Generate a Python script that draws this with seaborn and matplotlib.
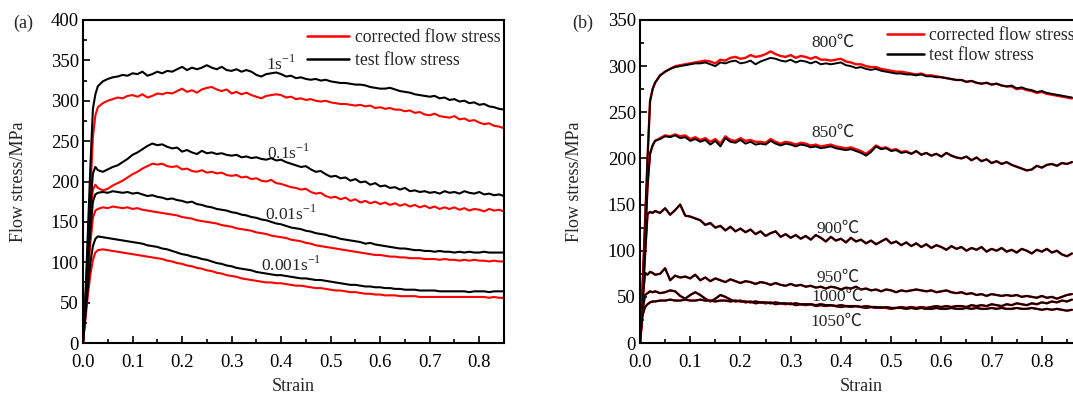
import matplotlib
matplotlib.use("Agg")
import matplotlib.pyplot as plt
from matplotlib.ticker import MultipleLocator
from matplotlib.lines import Line2D
import seaborn as sns

# ---------------- data ----------------
strain_a = [0.0, 0.005, 0.01, 0.015, 0.02, 0.025, 0.03,
            0.04, 0.05, 0.06, 0.07, 0.08, 0.09, 0.10, 0.11, 0.12, 0.13,
            0.14, 0.15, 0.16, 0.17, 0.18, 0.19, 0.20, 0.21, 0.22, 0.23,
            0.24, 0.25, 0.26, 0.27, 0.28, 0.29, 0.30, 0.31, 0.32, 0.33,
            0.34, 0.35, 0.36, 0.37, 0.38, 0.39, 0.40, 0.41, 0.42, 0.43,
            0.44, 0.45, 0.46, 0.47, 0.48, 0.49, 0.50, 0.51, 0.52, 0.53,
            0.54, 0.55, 0.56, 0.57, 0.58, 0.59, 0.60, 0.61, 0.62, 0.63,
            0.64, 0.65, 0.66, 0.67, 0.68, 0.69, 0.70, 0.71, 0.72, 0.73,
            0.74, 0.75, 0.76, 0.77, 0.78, 0.79, 0.80, 0.81, 0.82, 0.83,
            0.84, 0.85]

# panel (a): strain-rate series, test (black) and corrected (red)
test_1 = [0, 60, 140, 220, 290, 308, 318,
          324, 327, 329, 330, 332, 331, 334, 333, 336, 331,
          333, 336, 334, 337, 336, 339, 342, 338, 341, 339,
          341, 344, 341, 339, 342, 338, 337, 339, 336, 338,
          336, 332, 330, 333, 334, 335, 333, 330, 331, 328,
          329, 327, 326, 327, 325, 326, 324, 323, 322, 322,
          321, 320, 320, 319, 317, 316, 315, 315, 316, 314,
          312, 311, 310, 308, 307, 306, 305, 306, 303, 304,
          301, 302, 299, 300, 297, 298, 295, 296, 293, 292,
          290, 289]
corr_1 = [0, 55, 120, 190, 255, 282, 292,
          297, 300, 302, 304, 303, 306, 307, 305, 308, 304,
          306, 309, 308, 310, 309, 312, 315, 311, 313, 310,
          314, 316, 317, 314, 312, 314, 309, 311, 308, 310,
          307, 305, 303, 306, 307, 308, 307, 304, 305, 302,
          303, 301, 302, 300, 299, 300, 298, 297, 296, 296,
          295, 294, 295, 293, 294, 291, 292, 290, 291, 289,
          289, 287, 288, 285, 286, 283, 282, 284, 281, 280,
          279, 281, 277, 278, 275, 276, 273, 271, 272, 269,
          268, 266]
test_01 = [0, 50, 110, 170, 210, 218, 214,
           212, 215, 218, 220, 224, 228, 233, 236, 240, 244,
           247, 245, 246, 243, 241, 242, 237, 239, 236, 234,
           238, 235, 236, 234, 235, 233, 232, 233, 230, 231,
           229, 230, 228, 227, 229, 226, 227, 224, 222, 220,
           218, 219, 215, 212, 213, 209, 206, 207, 204, 205,
           201, 203, 199, 200, 196, 198, 194, 195, 192, 193,
           190, 192, 188, 189, 187, 188, 186, 187, 185, 188,
           186, 187, 185, 188, 186, 185, 187, 184, 185, 183,
           184, 182]
corr_01 = [0, 45, 100, 155, 190, 196, 192,
           189, 191, 195, 198, 201, 205, 209, 212, 216, 219,
           222, 221, 222, 219, 218, 219, 215, 216, 213, 212,
           214, 211, 212, 210, 211, 208, 207, 208, 205, 206,
           203, 204, 201, 200, 202, 198, 197, 195, 193, 192,
           190, 191, 187, 185, 186, 182, 180, 181, 178, 180,
           176, 178, 174, 176, 173, 175, 172, 174, 171, 173,
           170, 172, 169, 171, 168, 170, 167, 169, 166, 168,
           166, 168, 165, 167, 164, 166, 165, 163, 166, 164,
           165, 163]
test_001 = [0, 45, 95, 140, 175, 184, 186,
            187, 186, 188, 187, 186, 187, 185, 186, 184, 182,
            183, 181, 180, 178, 179, 177, 176, 174, 175, 172,
            171, 169, 168, 166, 165, 164, 162, 161, 159, 158,
            156, 155, 153, 152, 150, 148, 147, 145, 143, 142,
            141, 139, 138, 136, 135, 134, 132, 131, 129, 128,
            127, 126, 125, 123, 124, 122, 121, 120, 119, 118,
            117, 117, 116, 115, 115, 114, 114, 113, 114, 113,
            113, 112, 113, 112, 113, 112, 112, 113, 112, 112,
            112, 112]
corr_001 = [0, 40, 85, 125, 155, 164, 166,
            168, 167, 169, 168, 167, 168, 166, 167, 165, 164,
            163, 162, 161, 160, 159, 158, 156, 155, 154, 152,
            151, 150, 149, 148, 146, 145, 144, 142, 141, 140,
            139, 137, 136, 135, 133, 132, 131, 130, 128, 127,
            126, 124, 123, 121, 120, 119, 118, 117, 116, 115,
            114, 113, 112, 111, 110, 109, 109, 108, 107, 107,
            106, 106, 105, 105, 105, 104, 104, 104, 103, 104,
            103, 103, 102, 103, 102, 103, 102, 102, 101, 102,
            101, 101]
test_0001 = [0, 35, 70, 100, 120, 129, 132,
             131, 130, 129, 128, 127, 126, 125, 124, 123, 121,
             120, 119, 117, 116, 114, 112, 110, 109, 107, 106,
             104, 103, 101, 99, 98, 96, 95, 93, 92, 91,
             90, 88, 87, 86, 85, 84, 84, 83, 82, 81,
             80, 80, 79, 78, 78, 77, 76, 75, 74, 73,
             72, 72, 71, 70, 70, 69, 69, 68, 68, 67,
             67, 66, 66, 66, 65, 65, 65, 65, 64, 64,
             64, 64, 64, 64, 63, 64, 64, 64, 63, 64,
             64, 64]
corr_0001 = [0, 30, 60, 85, 103, 112, 115,
             116, 115, 114, 113, 112, 111, 110, 109, 108, 107,
             106, 105, 104, 102, 101, 99, 98, 96, 95, 93,
             92, 90, 89, 87, 86, 84, 83, 82, 80, 79,
             78, 77, 76, 75, 75, 74, 74, 73, 72, 71,
             71, 70, 69, 68, 68, 67, 66, 65, 65, 64,
             63, 63, 62, 61, 61, 60, 60, 59, 59, 59,
             58, 58, 58, 58, 57, 57, 57, 57, 57, 57,
             57, 57, 57, 57, 57, 57, 57, 57, 56, 57,
             56, 56]

strain_b = [0.0, 0.005, 0.01, 0.015, 0.02, 0.025, 0.03,
            0.04, 0.05, 0.06, 0.07, 0.08, 0.09, 0.10, 0.11, 0.12, 0.13,
            0.14, 0.15, 0.16, 0.17, 0.18, 0.19, 0.20, 0.21, 0.22, 0.23,
            0.24, 0.25, 0.26, 0.27, 0.28, 0.29, 0.30, 0.31, 0.32, 0.33,
            0.34, 0.35, 0.36, 0.37, 0.38, 0.39, 0.40, 0.41, 0.42, 0.43,
            0.44, 0.45, 0.46, 0.47, 0.48, 0.49, 0.50, 0.51, 0.52, 0.53,
            0.54, 0.55, 0.56, 0.57, 0.58, 0.59, 0.60, 0.61, 0.62, 0.63,
            0.64, 0.65, 0.66, 0.67, 0.68, 0.69, 0.70, 0.71, 0.72, 0.73,
            0.74, 0.75, 0.76, 0.77, 0.78, 0.79, 0.80, 0.81, 0.82, 0.83,
            0.84, 0.85, 0.86]

# panel (b): temperature series
test_800 = [0, 60, 130, 200, 262, 275, 282,
            290, 294, 297, 299, 300, 301, 302, 303, 303, 304,
            302, 300, 304, 303, 305, 306, 303, 304, 306, 302,
            305, 307, 309, 308, 306, 305, 307, 304, 306, 305,
            303, 305, 302, 303, 302, 303, 304, 301, 300, 298,
            299, 297, 296, 297, 295, 294, 293, 292, 292, 291,
            291, 290, 291, 289, 289, 288, 288, 287, 286, 285,
            285, 283, 284, 282, 281, 282, 280, 281, 279, 278,
            279, 276, 277, 275, 274, 272, 273, 271, 270, 269,
            268, 267, 266]
corr_800 = [0, 60, 130, 200, 262, 275, 282,
            290, 294, 297, 300, 301, 302, 303, 304, 305, 306,
            305, 303, 307, 306, 309, 310, 308, 309, 312, 310,
            311, 313, 316, 313, 311, 310, 312, 309, 311, 310,
            308, 310, 307, 307, 306, 307, 308, 305, 304, 302,
            302, 300, 299, 299, 297, 296, 295, 294, 294, 293,
            292, 291, 292, 290, 290, 289, 288, 287, 286, 285,
            285, 283, 284, 282, 281, 282, 280, 281, 279, 278,
            278, 275, 276, 274, 273, 271, 272, 270, 269, 268,
            267, 266, 265]
test_850 = [0, 50, 110, 170, 205, 214, 219,
            221, 224, 223, 225, 222, 223, 219, 221, 218, 220,
            215, 219, 213, 222, 218, 217, 220, 216, 218, 215,
            216, 215, 219, 216, 214, 216, 215, 213, 215, 214,
            212, 213, 211, 212, 213, 211, 210, 209, 210, 208,
            206, 203, 207, 213, 210, 211, 208, 209, 206, 207,
            205, 208, 204, 206, 203, 205, 202, 206, 203, 201,
            200, 202, 198, 201, 197, 199, 195, 197, 194, 196,
            193, 191, 189, 187, 188, 192, 190, 193, 194, 192,
            195, 194, 196]
corr_850 = [0, 50, 110, 170, 205, 214, 219,
            222, 225, 224, 226, 224, 225, 221, 223, 220, 222,
            218, 221, 216, 224, 220, 219, 222, 219, 220, 218,
            218, 217, 221, 218, 216, 218, 217, 215, 217, 216,
            214, 215, 213, 214, 215, 213, 212, 211, 212, 210,
            208, 205, 209, 214, 211, 212, 209, 210, 207, 208,
            205, 208, 204, 206, 203, 205, 202, 206, 203, 201,
            200, 202, 198, 201, 197, 199, 195, 197, 194, 196,
            193, 191, 189, 187, 188, 192, 190, 193, 194, 192,
            195, 194, 196]
test_900 = [0, 45, 95, 140, 142, 141, 143,
            141, 146, 139, 144, 150, 138, 137, 135, 133, 128,
            130, 125, 127, 122, 126, 121, 124, 120, 123, 118,
            121, 116, 119, 121, 115, 118, 114, 117, 113, 116,
            112, 117, 114, 110, 115, 111, 113, 109, 114, 110,
            112, 108, 111, 107, 110, 113, 108, 110, 106, 109,
            105, 108, 104, 107, 103, 106, 104, 101, 105, 102,
            104, 100, 103, 101, 104, 99, 102, 100, 103, 99,
            101, 98, 102, 100, 97, 101, 99, 102, 98, 100,
            96, 94, 97]
test_950 = [0, 45, 76, 74, 77, 76, 74,
            75, 81, 68, 73, 71, 72, 70, 74, 68, 71,
            67, 70, 68, 66, 69, 67, 65, 67, 66, 64,
            66, 65, 63, 65, 63, 62, 64, 62, 63, 61,
            62, 60, 61, 59, 61, 60, 58, 60, 59, 61,
            58, 59, 57, 58, 56, 58, 57, 55, 57, 56,
            57, 58, 57, 56, 57, 55, 56, 57, 55, 54,
            55, 53, 54, 52, 53, 51, 53, 52, 51, 52,
            51, 52, 50, 51, 50, 49, 51, 49, 50, 48,
            50, 52, 53]
test_1000 = [0, 35, 52, 54, 56, 55, 56,
             54, 55, 57, 56, 51, 48, 52, 55, 52, 48,
             45, 48, 52, 50, 47, 45, 46, 44, 45, 43,
             44, 43, 44, 42, 43, 42, 43, 41, 42, 41,
             42, 40, 41, 40, 41, 40, 39, 40, 39, 40,
             39, 38, 39, 38, 39, 38, 37, 38, 39, 38,
             39, 38, 39, 38, 39, 40, 39, 40, 39, 40,
             40, 39, 41, 40, 41, 40, 42, 41, 40, 42,
             41, 43, 42, 41, 43, 42, 44, 43, 45, 44,
             46, 45, 47]
test_1050 = [0, 30, 39, 42, 44, 45, 45,
             46, 46, 47, 46, 46, 47, 46, 46, 47, 46,
             46, 45, 46, 46, 45, 46, 45, 45, 44, 45,
             44, 44, 43, 44, 43, 43, 42, 43, 42, 42,
             42, 41, 42, 41, 41, 40, 41, 40, 40, 40,
             39, 40, 39, 39, 38, 39, 38, 38, 38, 37,
             38, 37, 38, 37, 37, 38, 37, 37, 38, 37,
             37, 38, 37, 38, 37, 37, 38, 37, 38, 37,
             37, 38, 37, 37, 38, 37, 36, 37, 36, 37,
             36, 35, 36]

# corrected curves of the hotter tests coincide with the test curves
corr_900, corr_950, corr_1000, corr_1050 = test_900, test_950, test_1000, test_1050

series_a = [(corr_1, test_1), (corr_01, test_01), (corr_001, test_001), (corr_0001, test_0001)]
labels_a = [r"1s$^{\mathregular{-1}}$", r"0.1s$^{\mathregular{-1}}$",
            r"0.01s$^{\mathregular{-1}}$", r"0.001s$^{\mathregular{-1}}$"]
label_pos_a = [(0.40, 346), (0.415, 235), (0.42, 160), (0.42, 96)]

series_b = [(corr_800, test_800), (corr_850, test_850), (corr_900, test_900),
            (corr_950, test_950), (corr_1000, test_1000), (corr_1050, test_1050)]
labels_b = ["800℃", "850℃", "900℃", "950℃", "1000℃", "1050℃"]
label_pos_b = [(0.384, 325), (0.384, 228), (0.394, 124), (0.394, 71), (0.394, 50), (0.392, 23)]

legend_labels = ["corrected flow stress", "test flow stress"]

# ---------------- style ----------------
sns.set_style("ticks")
plt.rcParams["font.family"] = ["Liberation Serif", "Noto Sans CJK SC"]
plt.rcParams["mathtext.fontset"] = "custom"
plt.rcParams["mathtext.rm"] = "Liberation Serif"
plt.rcParams["font.size"] = 12

fig = plt.figure(figsize=(10.73, 3.98), dpi=100)
W, H = 1073, 398
ax_a = fig.add_axes([83 / W, 55 / H, 421 / W, 323 / H])
ax_b = fig.add_axes([640 / W, 55 / H, 442 / W, 323 / H])

def style_axis(ax, xmax, ymax, ymajor):
    ax.set_xlim(0, xmax)
    ax.set_ylim(0, ymax)
    ax.set_xticks([0.0, 0.1, 0.2, 0.3, 0.4, 0.5, 0.6, 0.7, 0.8])
    ax.xaxis.set_minor_locator(MultipleLocator(0.05))
    ax.yaxis.set_major_locator(MultipleLocator(ymajor))
    ax.yaxis.set_minor_locator(MultipleLocator(ymajor / 2))
    ax.tick_params(which="both", direction="in", top=False, right=False, width=1.2,
                   labelsize=13.5, colors="black")
    ax.tick_params(which="major", length=5)
    ax.tick_params(which="minor", length=3)
    ax.tick_params(axis="x", which="major", pad=8)
    ax.tick_params(axis="y", which="major", pad=3)
    for s in ax.spines.values():
        s.set_linewidth(1.5)
        s.set_color("black")
    ax.set_xlabel("Strain", fontsize=13)
    ax.set_ylabel("Flow stress/MPa", fontsize=13)
    ax.xaxis.set_label_coords(0.5, -0.108)

for corr, test in series_a:
    sns.lineplot(x=strain_a, y=corr, ax=ax_a, color="#ff0000", lw=1.5,
                 estimator=None, sort=False)
    sns.lineplot(x=strain_a, y=test, ax=ax_a, color="black", lw=1.5,
                 estimator=None, sort=False)
for corr, test in series_b:
    sns.lineplot(x=strain_b, y=corr, ax=ax_b, color="#ff0000", lw=1.7,
                 estimator=None, sort=False)
    sns.lineplot(x=strain_b, y=test, ax=ax_b, color="black", lw=1.4,
                 estimator=None, sort=False)

style_axis(ax_a, 0.85, 400, 50)
style_axis(ax_b, 0.88, 350, 50)
ax_a.yaxis.set_label_coords(-0.133, 0.5)
ax_b.yaxis.set_label_coords(-0.129, 0.5)

for txt, (x, y) in zip(labels_a, label_pos_a):
    ax_a.text(x, y, txt, ha="center", va="center", fontsize=12.5)
for txt, (x, y) in zip(labels_b, label_pos_b):
    ax_b.text(x, y, txt, ha="center", va="center", fontsize=12.5)

handles = [Line2D([], [], color="#ff0000", lw=1.8), Line2D([], [], color="black", lw=1.8)]
ax_a.legend(handles, legend_labels, loc="upper left", bbox_to_anchor=(0.532, 0.972),
            frameon=False, borderpad=0, borderaxespad=0, handlelength=2.4,
            handletextpad=0.3, labelspacing=0.35, fontsize=12.7)
ax_b.legend(handles, legend_labels, loc="upper left", bbox_to_anchor=(0.559, 0.978),
            frameon=False, borderpad=0, borderaxespad=0, handlelength=2.1,
            handletextpad=0.3, labelspacing=0.15, fontsize=12.7)

fig.text(13 / W, 1 - 23 / H, "(a)", ha="left", va="center", fontsize=13)
fig.text(572 / W, 1 - 23 / H, "(b)", ha="left", va="center", fontsize=13)

fig.savefig("out.png", dpi=100)
